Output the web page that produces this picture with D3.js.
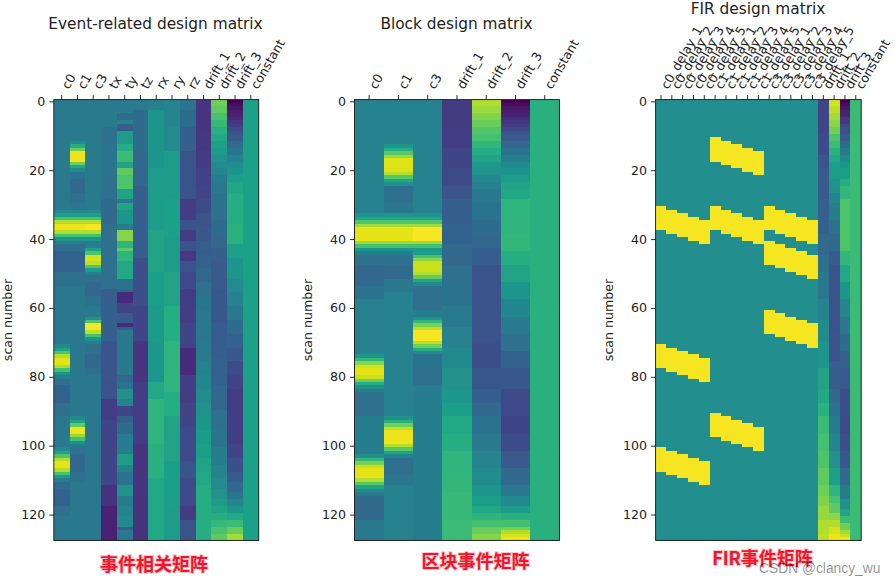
<!DOCTYPE html>
<html><head><meta charset="utf-8">
<script src="https://cdn.jsdelivr.net/npm/d3@7"></script>
<style>
html,body{margin:0;padding:0;background:#fff;}
svg{display:block;}
text{font-family:"DejaVu Sans",sans-serif;fill:#222;}
</style></head><body>
<div id="chart"></div>
<script>
// Every column is a list of [first row, colour-scale value] runs.
const rowCount = 128;
const yTicks = [0,20,40,60,80,100,120];

const evtLabels = ["c0","c1","c3","tx","ty","tz","rx","ry","rz","drift_1","drift_2","drift_3","constant"];
const evtC0 = [[0,.41],[32,.47],[33,.56],[34,.70],[35,.88],[36,.97],[38,.88],[39,.70],[40,.52],[41,.43],[42,.36],[44,.32],[50,.37],[54,.40],[71,.47],[72,.58],[73,.72],[74,.88],[75,.96],[77,.88],[78,.70],[79,.52],[80,.42],[81,.36],[83,.32],[88,.36],[92,.40],[101,.47],[102,.58],[103,.72],[104,.88],[105,.96],[107,.88],[108,.70],[109,.55],[110,.42],[111,.35],[113,.31],[118,.36],[121,.40]];
const evtC1 = [[0,.41],[12,.47],[13,.62],[14,.78],[15,.97],[18,.78],[19,.60],[20,.47],[21,.38],[23,.33],[27,.37],[30,.40],[32,.47],[33,.56],[34,.70],[35,.88],[36,.97],[38,.88],[39,.70],[40,.52],[41,.43],[42,.36],[44,.32],[50,.37],[54,.40],[92,.47],[93,.58],[94,.75],[95,.97],[97,.85],[98,.70],[99,.52],[100,.42],[101,.36],[103,.33],[108,.37],[111,.40]];
const evtC3 = [[0,.41],[32,.47],[33,.56],[34,.70],[35,.88],[36,.99],[38,.88],[39,.70],[40,.52],[41,.42],[43,.58],[44,.72],[45,.93],[47,.90],[48,.72],[49,.55],[50,.42],[51,.36],[53,.33],[57,.37],[60,.40],[63,.50],[64,.72],[65,.99],[67,.90],[68,.70],[69,.52],[70,.42],[71,.36],[74,.33],[78,.37],[80,.40]];
const evtTx = [[0,.41],[8,.37],[13,.39],[22,.36],[29,.34],[36,.36],[55,.30],[70,.26],[82,.25],[87,.18],[93,.20],[112,.14],[118,.10]];
const evtTy = [[0,.41],[4,.35],[6,.45],[7,.30],[9,.55],[13,.62],[15,.68],[18,.58],[20,.75],[22,.72],[26,.58],[29,.40],[30,.58],[32,.52],[36,.42],[38,.82],[41,.65],[43,.75],[44,.65],[47,.60],[52,.38],[55,.33],[56,.12],[59,.20],[62,.28],[65,.12],[66,.30],[67,.40],[80,.33],[82,.38],[84,.50],[87,.45],[89,.20],[92,.30],[94,.35],[97,.42],[103,.55],[106,.45],[108,.38],[112,.50],[115,.42],[118,.45],[121,.47],[124,.30],[125,.40]];
const evtTz = [[0,.41],[3,.35],[15,.33],[25,.30],[46,.24],[60,.20],[70,.15],[82,.18],[100,.15],[115,.14]];
const evtRx = [[0,.43],[3,.52],[20,.55],[38,.58],[50,.56],[60,.54],[70,.53],[82,.60],[87,.65],[100,.63],[110,.60]];
const evtRy = [[0,.45],[8,.48],[15,.55],[29,.57],[40,.55],[50,.58],[60,.62],[70,.65],[85,.62],[92,.58],[105,.56],[118,.55]];
const evtRz = [[0,.38],[3,.35],[8,.30],[15,.25],[29,.18],[35,.25],[38,.18],[41,.25],[44,.16],[47,.25],[50,.22],[55,.18],[65,.20],[72,.12],[80,.18],[88,.20],[95,.23],[105,.25],[110,.22],[118,.17],[122,.25]];
const evtD1 = [[0,.15],[10,.16],[15,.17],[20,.19],[25,.20],[29,.23],[33,.25],[37,.27],[41,.29],[45,.31],[49,.33],[53,.36],[57,.39],[61,.40],[70,.41],[76,.43],[80,.46],[84,.48],[88,.50],[92,.52],[96,.54],[100,.56],[104,.58],[108,.60],[112,.62]];
const evtD2 = [[0,.78],[2,.75],[4,.71],[6,.67],[8,.63],[10,.60],[12,.57],[14,.54],[16,.51],[18,.48],[20,.45],[22,.42],[24,.40],[27,.38],[31,.36],[35,.35],[39,.33],[43,.30],[47,.28],[55,.27],[65,.29],[75,.31],[83,.33],[90,.37],[96,.39],[101,.42],[106,.45],[110,.48],[113,.51],[116,.55],[118,.58],[120,.62],[122,.67],[124,.71],[126,.75]];
const evtD3 = [[0,0],[1,.03],[2,.05],[3,.07],[4,.09],[5,.12],[6,.15],[7,.18],[8,.22],[9,.25],[10,.28],[12,.34],[14,.39],[16,.44],[18,.48],[20,.52],[22,.56],[24,.59],[27,.62],[36,.64],[42,.57],[46,.52],[52,.48],[56,.44],[60,.40],[64,.35],[68,.31],[72,.27],[76,.23],[80,.20],[84,.18],[100,.20],[104,.24],[108,.28],[111,.33],[114,.39],[116,.45],[118,.52],[120,.60],[122,.68],[124,.77],[126,.86]];
const evtConst = [[0,.57]];

const blkLabels = ["c0","c1","c3","drift_1","drift_2","drift_3","constant"];
const blkC0 = [[0,.44],[33,.52],[34,.58],[35,.72],[36,.86],[37,.96],[41,.85],[42,.70],[43,.52],[44,.42],[45,.36],[48,.33],[54,.38],[58,.43],[74,.52],[75,.66],[76,.82],[77,.93],[78,.96],[80,.92],[81,.78],[82,.62],[83,.50],[84,.42],[85,.36],[92,.42],[103,.50],[104,.66],[105,.80],[106,.92],[107,.96],[110,.88],[111,.74],[112,.58],[113,.48],[114,.42],[115,.34],[122,.40]];
const blkC1 = [[0,.44],[13,.52],[14,.62],[15,.74],[16,.85],[17,.95],[21,.88],[22,.74],[23,.60],[24,.50],[25,.36],[30,.40],[33,.52],[34,.58],[35,.72],[36,.86],[37,.96],[41,.85],[42,.70],[43,.52],[44,.42],[45,.36],[48,.34],[52,.40],[56,.44],[92,.50],[93,.64],[94,.78],[95,.90],[96,.97],[100,.88],[101,.74],[102,.58],[103,.46],[104,.36],[109,.40],[112,.44]];
const blkC3 = [[0,.44],[33,.52],[34,.58],[35,.72],[36,.86],[37,.99],[41,.85],[42,.70],[43,.55],[44,.56],[45,.70],[46,.82],[47,.92],[50,.88],[51,.76],[52,.60],[53,.48],[54,.36],[61,.42],[63,.50],[64,.66],[65,.80],[66,.90],[67,.99],[70,.90],[71,.78],[72,.62],[73,.48],[74,.38],[78,.36],[83,.42]];
const blkD1 = [[0,.17],[8,.18],[14,.20],[20,.22],[25,.26],[29,.30],[36,.32],[42,.34],[48,.36],[54,.38],[60,.41],[66,.44],[72,.47],[78,.50],[84,.53],[88,.56],[92,.60],[97,.62],[102,.65],[108,.66],[114,.67],[122,.68]];
const blkD2 = [[0,.88],[2,.85],[4,.81],[6,.77],[8,.73],[10,.70],[12,.66],[14,.62],[16,.58],[18,.54],[20,.51],[22,.47],[24,.43],[26,.40],[30,.38],[35,.35],[39,.33],[43,.29],[48,.25],[70,.24],[78,.27],[84,.30],[88,.34],[92,.38],[97,.41],[102,.45],[107,.48],[112,.52],[115,.56],[118,.60],[120,.65],[122,.70],[124,.77],[126,.82]];
const blkD3 = [[0,0],[1,.02],[2,.05],[3,.08],[4,.10],[5,.13],[6,.16],[7,.18],[8,.21],[9,.25],[10,.28],[12,.33],[14,.38],[16,.42],[18,.47],[20,.52],[22,.55],[24,.58],[26,.60],[29,.65],[39,.66],[44,.62],[48,.58],[53,.52],[58,.46],[63,.41],[68,.36],[73,.31],[78,.27],[84,.22],[92,.20],[97,.23],[102,.28],[107,.34],[112,.40],[115,.47],[118,.55],[120,.63],[122,.70],[124,.78],[125,.88],[126,.94],[127,.97]];
const blkConst = [[0,.63]];

const firLabels = ["c0_delay_1","c0_delay_2","c0_delay_3","c0_delay_4","c0_delay_5","c1_delay_1","c1_delay_2","c1_delay_3","c1_delay_4","c1_delay_5","c3_delay_1","c3_delay_2","c3_delay_3","c3_delay_4","c3_delay_5","drift_1","drift_2","drift_3","constant"];
const firBase = .49, firOn = .985;
const firC0D1 = [[0,firBase],[31,firOn],[38,firBase],[71,firOn],[78,firBase],[101,firOn],[108,firBase]];
const firC0D2 = [[0,firBase],[32,firOn],[39,firBase],[72,firOn],[79,firBase],[102,firOn],[109,firBase]];
const firC0D3 = [[0,firBase],[33,firOn],[40,firBase],[73,firOn],[80,firBase],[103,firOn],[110,firBase]];
const firC0D4 = [[0,firBase],[34,firOn],[41,firBase],[74,firOn],[81,firBase],[104,firOn],[111,firBase]];
const firC0D5 = [[0,firBase],[35,firOn],[42,firBase],[75,firOn],[82,firBase],[105,firOn],[112,firBase]];
const firC1D1 = [[0,firBase],[11,firOn],[18,firBase],[31,firOn],[38,firBase],[91,firOn],[98,firBase]];
const firC1D2 = [[0,firBase],[12,firOn],[19,firBase],[32,firOn],[39,firBase],[92,firOn],[99,firBase]];
const firC1D3 = [[0,firBase],[13,firOn],[20,firBase],[33,firOn],[40,firBase],[93,firOn],[100,firBase]];
const firC1D4 = [[0,firBase],[14,firOn],[21,firBase],[34,firOn],[41,firBase],[94,firOn],[101,firBase]];
const firC1D5 = [[0,firBase],[15,firOn],[22,firBase],[35,firOn],[42,firBase],[95,firOn],[102,firBase]];
const firC3D1 = [[0,firBase],[31,firOn],[38,firBase],[41,firOn],[48,firBase],[61,firOn],[68,firBase]];
const firC3D2 = [[0,firBase],[32,firOn],[39,firBase],[42,firOn],[49,firBase],[62,firOn],[69,firBase]];
const firC3D3 = [[0,firBase],[33,firOn],[40,firBase],[43,firOn],[50,firBase],[63,firOn],[70,firBase]];
const firC3D4 = [[0,firBase],[34,firOn],[41,firBase],[44,firOn],[51,firBase],[64,firOn],[71,firBase]];
const firC3D5 = [[0,firBase],[35,firOn],[42,firBase],[45,firOn],[52,firBase],[65,firOn],[72,firBase]];
const firD1 = [[0,.20],[10,.23],[16,.26],[20,.28],[29,.30],[34,.32],[39,.34],[45,.37],[50,.40],[58,.44],[64,.48],[70,.52],[78,.58],[84,.60],[88,.64],[92,.68],[97,.70],[102,.72],[107,.75],[112,.78],[115,.81],[118,.84],[122,.88],[126,.90]];
const firD2 = [[0,.93],[2,.90],[4,.86],[6,.82],[8,.78],[10,.72],[12,.68],[14,.64],[16,.60],[18,.57],[20,.55],[23,.52],[25,.50],[27,.45],[30,.42],[35,.37],[39,.33],[44,.28],[48,.25],[68,.26],[76,.30],[84,.34],[88,.38],[92,.42],[97,.46],[102,.50],[107,.57],[112,.65],[115,.71],[117,.75],[120,.83],[122,.88],[124,.93],[126,.97]];
const firD3 = [[0,0],[1,.03],[2,.06],[3,.09],[5,.15],[7,.21],[8,.24],[10,.28],[12,.35],[14,.41],[16,.47],[18,.52],[20,.56],[23,.62],[25,.66],[29,.72],[39,.72],[44,.66],[48,.60],[53,.52],[58,.45],[63,.40],[68,.35],[73,.31],[78,.28],[84,.24],[92,.22],[97,.24],[102,.27],[107,.34],[112,.42],[116,.50],[119,.58],[121,.68],[123,.78],[125,.86],[126,.92],[127,.985]];
const firConst = [[0,.68]];

const titles = ["Event-related design matrix","Block design matrix","FIR design matrix"];
const captions = ["事件相关矩阵","区块事件矩阵","FIR事件矩阵"];
const yAxisLabel = "scan number";
const watermark = "CSDN @clancy_wu";

const panels = [
  {labels:evtLabels, cols:[evtC0,evtC1,evtC3,evtTx,evtTy,evtTz,evtRx,evtRy,evtRz,evtD1,evtD2,evtD3,evtConst],
   x0:53.8,x1:258.7,titleX:155.5,titleY:29,capX:154,capY:571,ylabX:12},
  {labels:blkLabels, cols:[blkC0,blkC1,blkC3,blkD1,blkD2,blkD3,blkConst],
   x0:354.5,x1:559.4,titleX:456.5,titleY:29,capX:475.5,capY:568,ylabX:312},
  {labels:firLabels, cols:[firC0D1,firC0D2,firC0D3,firC0D4,firC0D5,firC1D1,firC1D2,firC1D3,firC1D4,firC1D5,firC3D1,firC3D2,firC3D3,firC3D4,firC3D5,firD1,firD2,firD3,firConst],
   x0:655.6,x1:861.2,titleX:758,titleY:14,capX:762.5,capY:565,ylabX:613}
];

const W = 895, H = 585, axTop = 99.6, axBottom = 540.4;
const svg = d3.select("#chart").append("svg").attr("width",W).attr("height",H).attr("viewBox",`0 0 ${W} ${H}`);
const y = d3.scaleLinear().domain([-0.5,rowCount-0.5]).range([axTop,axBottom]);
const color = d3.scaleSequential(d3.interpolateViridis).domain([0,1]);

const defs = svg.append("defs");
defs.append("filter").attr("id","soft").attr("x","-2%").attr("y","-2%").attr("width","104%").attr("height","104%")
  .append("feGaussianBlur").attr("stdDeviation","0.45");

panels.forEach((p,pi)=>{
  const x = d3.scaleBand().domain(p.labels).range([p.x0,p.x1]);
  const g = svg.append("g");
  const cid = "clip"+pi;
  defs.append("clipPath").attr("id",cid).append("rect")
     .attr("x",p.x0).attr("y",axTop).attr("width",p.x1-p.x0).attr("height",axBottom-axTop);
  const img = g.append("g").attr("clip-path",`url(#${cid})`).append("g").attr("filter","url(#soft)");
  p.cols.forEach((runs,i)=>{
    img.selectAll(null).data(runs).join("rect")
      .attr("shape-rendering","crispEdges")
      .attr("x",x(p.labels[i]))
      .attr("width",x.bandwidth()+1)
      .attr("y",d=>y(d[0]-0.5))
      .attr("height",(d,j)=>{
        const end = j+1<runs.length?runs[j+1][0]:rowCount;
        return y(end-0.5)-y(d[0]-0.5)+1;
      })
      .attr("fill",d=>color(d[1]));
  });
  const ax = g.append("g").attr("transform",`translate(${p.x0},0)`)
    .call(d3.axisLeft(y).tickValues(yTicks).tickSize(4.5).tickPadding(4));
  ax.select(".domain").remove();
  ax.selectAll("line").attr("stroke","#111").attr("stroke-width",0.9);
  ax.selectAll("text").style("font-size","12.6px");
  const at = g.append("g").attr("transform",`translate(0,${axTop})`)
    .call(d3.axisTop(x).tickSize(4.5).tickFormat(""));
  at.select(".domain").remove();
  at.selectAll("line").attr("stroke","#111").attr("stroke-width",0.9);
  g.append("g").selectAll("text").data(p.labels).join("text")
    .attr("transform",d=>`translate(${x(d)+x.bandwidth()/2+7},${axTop-9.5}) rotate(-60)`)
    .attr("text-anchor","start")
    .style("font-size","12.6px")
    .text(d=>d);
  g.append("rect").attr("x",p.x0).attr("y",axTop).attr("width",p.x1-p.x0).attr("height",axBottom-axTop)
    .attr("fill","none").attr("stroke","#111").attr("stroke-width",0.9);
  g.append("text").attr("x",p.titleX).attr("y",p.titleY).attr("text-anchor","middle")
    .style("font-size","15.35px").text(titles[pi]);
  g.append("text").attr("transform",`translate(${p.ylabX},320) rotate(-90)`).attr("text-anchor","middle")
    .style("font-size","12.6px").text(yAxisLabel);
  g.append("text").attr("x",p.capX).attr("y",p.capY).attr("text-anchor","middle")
    .style("font-family",'"Noto Sans CJK SC",sans-serif').style("font-weight","700").style("font-size","18px")
    .style("fill","#f5142a").style("paint-order","stroke").style("stroke","#f6c9cf").style("stroke-width","2px")
    .text(captions[pi]);
});
svg.append("text").attr("x",759).attr("y",573)
  .style("font-family",'"Liberation Sans",sans-serif').style("font-size","13.8px").style("fill","#000").style("fill-opacity",0.45)
  .text(watermark);
</script>
</body></html>
